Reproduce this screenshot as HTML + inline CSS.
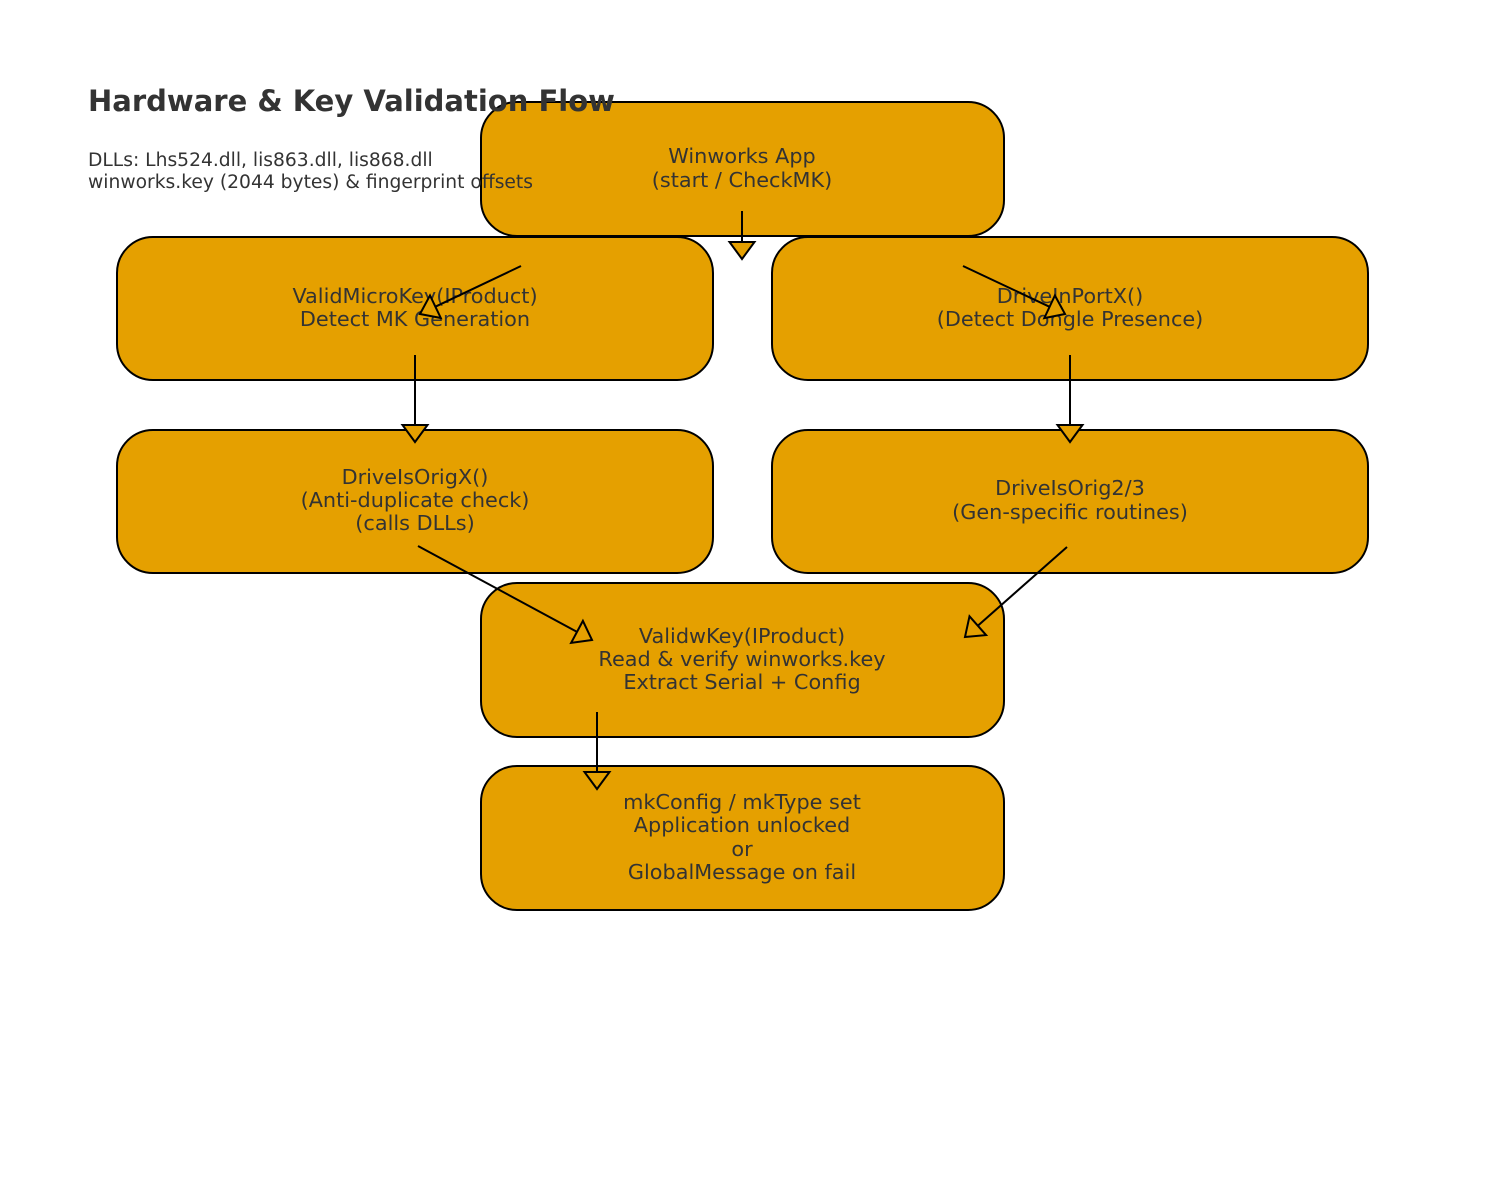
<!DOCTYPE html>
<html><head><meta charset="utf-8"><style>
html,body{margin:0;padding:0;background:#fff;}
svg{display:block;}
text{font-family:"DejaVu Sans","Liberation Sans",sans-serif;fill:#333;}
</style></head><body>
<svg width="1485" height="1185" viewBox="0 0 1485 1185" xmlns="http://www.w3.org/2000/svg">
<g fill="#E5A000" stroke="#000" stroke-width="2">
<rect x="481" y="102" width="523" height="134" rx="36"/>
<rect x="117" y="237" width="596" height="143" rx="36"/>
<rect x="772" y="237" width="596" height="143" rx="36"/>
<rect x="117" y="430" width="596" height="143" rx="36"/>
<rect x="772" y="430" width="596" height="143" rx="36"/>
<rect x="481" y="583" width="523" height="154" rx="36"/>
<rect x="481" y="766" width="523" height="144" rx="36"/>
</g>
<text x="88" y="111" font-size="29" font-weight="bold">Hardware &amp; Key Validation Flow</text>
<text x="88" y="166" font-size="18.7">DLLs: Lhs524.dll, lis863.dll, lis868.dll</text>
<text x="88" y="188" font-size="18.7">winworks.key (2044 bytes) &amp; fingerprint offsets</text>
<g font-size="20.8" text-anchor="middle">
<text x="742" y="163">Winworks App</text>
<text x="742" y="187">(start / CheckMK)</text>
<text x="415" y="303">ValidMicroKey(IProduct)</text>
<text x="415" y="326">Detect MK Generation</text>
<text x="1070" y="303">DriveInPortX()</text>
<text x="1070" y="326">(Detect Dongle Presence)</text>
<text x="415" y="484">DriveIsOrigX()</text>
<text x="415" y="507">(Anti-duplicate check)</text>
<text x="415" y="530">(calls DLLs)</text>
<text x="1070" y="495">DriveIsOrig2/3</text>
<text x="1070" y="519">(Gen-specific routines)</text>
<text x="742" y="643">ValidwKey(IProduct)</text>
<text x="742" y="666">Read &amp; verify winworks.key</text>
<text x="742" y="689">Extract Serial + Config</text>
<text x="742" y="809">mkConfig / mkType set</text>
<text x="742" y="832">Application unlocked</text>
<text x="742" y="856">or</text>
<text x="742" y="879">GlobalMessage on fail</text>
</g>
<g stroke="#000" stroke-width="2" fill="none">
<line x1="742" y1="211" x2="742" y2="242"/>
<line x1="521" y1="266" x2="435.4" y2="306.7"/>
<line x1="963" y1="266" x2="1049.6" y2="306.8"/>
<line x1="415" y1="355" x2="415" y2="425"/>
<line x1="1070" y1="355" x2="1070" y2="425"/>
<line x1="418" y1="546" x2="577" y2="631.9"/>
<line x1="1067" y1="547" x2="977.8" y2="625.7"/>
<line x1="597" y1="712" x2="597" y2="772"/>
</g>
<g fill="#E5A000" stroke="#000" stroke-width="2" stroke-linejoin="miter">
<polygon points="742,259 729.5,242 754.5,242"/>
<polygon points="420,314 430,295.4 440.8,318"/>
<polygon points="1065,314 1044.3,318.1 1054.9,295.5"/>
<polygon points="415,442 402.5,425 427.5,425"/>
<polygon points="1070,442 1057.5,425 1082.5,425"/>
<polygon points="592,640 571.1,642.9 582.9,620.9"/>
<polygon points="965,637 969.5,616.3 986.1,635.1"/>
<polygon points="597,789 584.5,772 609.5,772"/>
</g>
</svg>
</body></html>
